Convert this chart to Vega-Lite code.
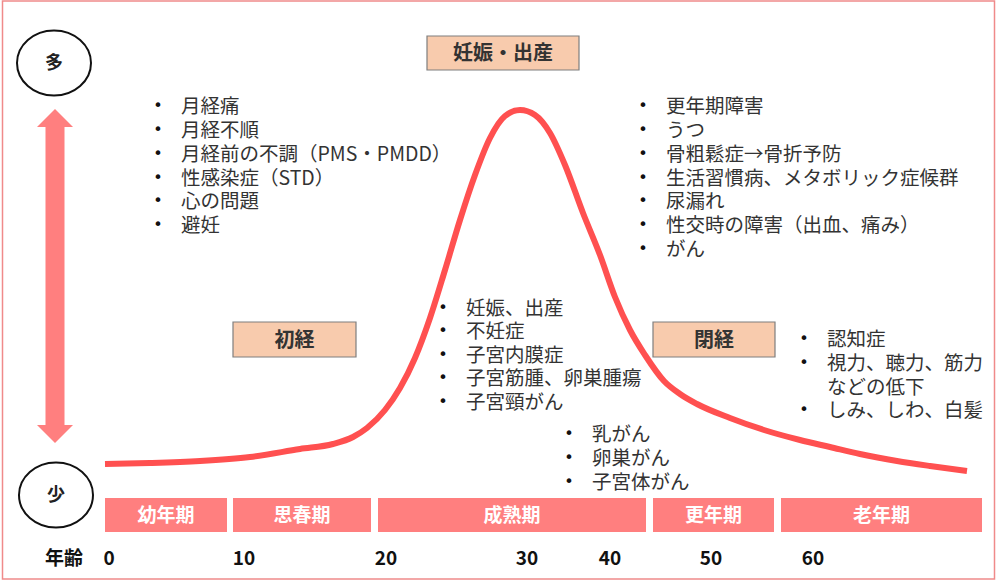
{
  "$schema": "https://vega.github.io/schema/vega-lite/v6.json",
  "width": 997,
  "height": 582,
  "autosize": {"type": "none"},
  "padding": 0,
  "background": "white",
  "config": {"view": {"stroke": null}, "font": "Noto Sans CJK JP"},
  "datasets": {
    "frame": [{"x1": 2.5, "x2": 994.5, "y1": 1, "y2": 579}],
    "curve": [
      {"x": 105, "y": 464}, {"x": 150, "y": 463}, {"x": 200, "y": 461}, {"x": 250, "y": 457},
      {"x": 300, "y": 449}, {"x": 333, "y": 444}, {"x": 353, "y": 437}, {"x": 367, "y": 428},
      {"x": 385, "y": 410}, {"x": 400, "y": 388}, {"x": 415, "y": 358}, {"x": 430, "y": 318},
      {"x": 445, "y": 270}, {"x": 460, "y": 220}, {"x": 475, "y": 175}, {"x": 490, "y": 138},
      {"x": 505, "y": 116}, {"x": 520, "y": 110}, {"x": 535, "y": 115}, {"x": 550, "y": 133},
      {"x": 565, "y": 165}, {"x": 583, "y": 213}, {"x": 600, "y": 255}, {"x": 615, "y": 297},
      {"x": 630, "y": 330}, {"x": 645, "y": 355}, {"x": 664, "y": 381}, {"x": 680, "y": 394},
      {"x": 697, "y": 404}, {"x": 730, "y": 418}, {"x": 764, "y": 430}, {"x": 800, "y": 440},
      {"x": 830, "y": 447}, {"x": 860, "y": 454}, {"x": 897, "y": 461}, {"x": 930, "y": 466},
      {"x": 967, "y": 471}
    ],
    "shaft": [{"x": 55, "y1": 126, "y2": 426}],
    "heads": [{"x": 55, "y": 118, "dir": "up"}, {"x": 55, "y": 434, "dir": "down"}],
    "circles": [{"x": 54, "y": 63, "label": "多"}, {"x": 56, "y": 495, "label": "少"}],
    "boxes": [
      {"x1": 427, "x2": 579, "y1": 36, "y2": 70, "label": "妊娠・出産"},
      {"x1": 233, "x2": 356, "y1": 322, "y2": 357, "label": "初経"},
      {"x1": 653, "x2": 775, "y1": 322, "y2": 357, "label": "閉経"}
    ],
    "stages": [
      {"x1": 105, "x2": 227, "label": "幼年期"},
      {"x1": 233, "x2": 371, "label": "思春期"},
      {"x1": 378, "x2": 646, "label": "成熟期"},
      {"x1": 653, "x2": 774, "label": "更年期"},
      {"x1": 781, "x2": 982, "label": "老年期"}
    ],
    "ages": [
      {"x": 64, "label": "年齢"}, {"x": 109, "label": "0"}, {"x": 244, "label": "10"},
      {"x": 386, "label": "20"}, {"x": 527, "label": "30"}, {"x": 610, "label": "40"},
      {"x": 711, "label": "50"}, {"x": 813, "label": "60"}
    ],
    "lists": [
      {"x": 158, "y": 105, "text": "月経痛", "bullet": true},
      {"x": 158, "y": 129, "text": "月経不順", "bullet": true},
      {"x": 158, "y": 153, "text": "月経前の不調（PMS・PMDD）", "bullet": true},
      {"x": 158, "y": 177, "text": "性感染症（STD）", "bullet": true},
      {"x": 158, "y": 200, "text": "心の問題", "bullet": true},
      {"x": 158, "y": 224, "text": "避妊", "bullet": true},
      {"x": 643, "y": 105, "text": "更年期障害", "bullet": true},
      {"x": 643, "y": 129, "text": "うつ", "bullet": true},
      {"x": 643, "y": 153, "text": "骨粗鬆症→骨折予防", "bullet": true},
      {"x": 643, "y": 177, "text": "生活習慣病、メタボリック症候群", "bullet": true},
      {"x": 643, "y": 200, "text": "尿漏れ", "bullet": true},
      {"x": 643, "y": 224, "text": "性交時の障害（出血、痛み）", "bullet": true},
      {"x": 643, "y": 248, "text": "がん", "bullet": true},
      {"x": 443, "y": 307, "text": "妊娠、出産", "bullet": true},
      {"x": 443, "y": 330, "text": "不妊症", "bullet": true},
      {"x": 443, "y": 354, "text": "子宮内膜症", "bullet": true},
      {"x": 443, "y": 377, "text": "子宮筋腫、卵巣腫瘍", "bullet": true},
      {"x": 443, "y": 401, "text": "子宮頸がん", "bullet": true},
      {"x": 569, "y": 433, "text": "乳がん", "bullet": true},
      {"x": 569, "y": 457, "text": "卵巣がん", "bullet": true},
      {"x": 569, "y": 481, "text": "子宮体がん", "bullet": true},
      {"x": 804, "y": 338, "text": "認知症", "bullet": true},
      {"x": 804, "y": 362, "text": "視力、聴力、筋力", "bullet": true},
      {"x": 804, "y": 386, "text": "などの低下", "bullet": false},
      {"x": 804, "y": 409, "text": "しみ、しわ、白髪", "bullet": true}
    ]
  },
  "layer": [
    {
      "data": {"name": "frame"},
      "mark": {"type": "rect", "fill": null, "stroke": "#F08A8A", "strokeWidth": 1.5},
      "encoding": {
        "x": {"field": "x1", "type": "quantitative", "scale": {"domain": [0, 997], "nice": false, "zero": false}, "axis": null},
        "x2": {"field": "x2"},
        "y": {"field": "y1", "type": "quantitative", "scale": {"domain": [582, 0], "nice": false, "zero": false}, "axis": null},
        "y2": {"field": "y2"}
      }
    },
    {
      "data": {"name": "shaft"},
      "mark": {"type": "rule", "stroke": "#FF7F7F", "strokeWidth": 19},
      "encoding": {
        "x": {"field": "x", "type": "quantitative"},
        "y": {"field": "y1", "type": "quantitative"},
        "y2": {"field": "y2"}
      }
    },
    {
      "data": {"name": "heads"},
      "transform": [{"filter": "datum.dir === 'up'"}],
      "mark": {"type": "point", "filled": true, "fill": "#FF7F7F", "opacity": 1, "strokeWidth": 0, "shape": "M -1,0.5 L 0,-0.5 L 1,0.5 Z", "size": 1296},
      "encoding": {
        "x": {"field": "x", "type": "quantitative"},
        "y": {"field": "y", "type": "quantitative"}
      }
    },
    {
      "data": {"name": "heads"},
      "transform": [{"filter": "datum.dir === 'down'"}],
      "mark": {"type": "point", "filled": true, "fill": "#FF7F7F", "opacity": 1, "strokeWidth": 0, "shape": "M -1,-0.5 L 0,0.5 L 1,-0.5 Z", "size": 1296},
      "encoding": {
        "x": {"field": "x", "type": "quantitative"},
        "y": {"field": "y", "type": "quantitative"}
      }
    },
    {
      "data": {"name": "circles"},
      "mark": {"type": "point", "filled": false, "stroke": "#111111", "strokeWidth": 2, "opacity": 1, "shape": "M -1,0 A 1,0.88 0 1,1 1,0 A 1,0.88 0 1,1 -1,0 Z", "size": 5476},
      "encoding": {
        "x": {"field": "x", "type": "quantitative"},
        "y": {"field": "y", "type": "quantitative"}
      }
    },
    {
      "data": {"name": "circles"},
      "mark": {"type": "text", "fontSize": 18, "fontWeight": "bold", "color": "#222222", "align": "center", "baseline": "middle", "dy": 1},
      "encoding": {
        "x": {"field": "x", "type": "quantitative"},
        "y": {"field": "y", "type": "quantitative"},
        "text": {"field": "label"}
      }
    },
    {
      "data": {"name": "boxes"},
      "mark": {"type": "rect", "fill": "#F8CBAD", "stroke": "#7F7F7F", "strokeWidth": 1.2},
      "encoding": {
        "x": {"field": "x1", "type": "quantitative"},
        "x2": {"field": "x2"},
        "y": {"field": "y1", "type": "quantitative"},
        "y2": {"field": "y2"}
      }
    },
    {
      "data": {"name": "boxes"},
      "transform": [{"calculate": "(datum.x1 + datum.x2) / 2", "as": "xc"}, {"calculate": "(datum.y1 + datum.y2) / 2", "as": "yc"}],
      "mark": {"type": "text", "fontSize": 20, "fontWeight": "bold", "color": "#333333", "align": "center", "baseline": "middle", "dy": 1},
      "encoding": {
        "x": {"field": "xc", "type": "quantitative"},
        "y": {"field": "yc", "type": "quantitative"},
        "text": {"field": "label"}
      }
    },
    {
      "data": {"name": "curve"},
      "mark": {"type": "line", "stroke": "#FF5050", "strokeWidth": 6, "interpolate": "monotone", "strokeCap": "butt"},
      "encoding": {
        "x": {"field": "x", "type": "quantitative"},
        "y": {"field": "y", "type": "quantitative"},
        "order": {"field": "x", "type": "quantitative"}
      }
    },
    {
      "data": {"name": "stages"},
      "mark": {"type": "rect", "fill": "#FF7F7F"},
      "encoding": {
        "x": {"field": "x1", "type": "quantitative"},
        "x2": {"field": "x2"},
        "y": {"datum": 498, "type": "quantitative"},
        "y2": {"datum": 532}
      }
    },
    {
      "data": {"name": "stages"},
      "transform": [{"calculate": "(datum.x1 + datum.x2) / 2", "as": "xc"}],
      "mark": {"type": "text", "fontSize": 19, "fontWeight": "bold", "color": "white", "align": "center", "baseline": "middle", "dy": 1},
      "encoding": {
        "x": {"field": "xc", "type": "quantitative"},
        "y": {"datum": 515, "type": "quantitative"},
        "text": {"field": "label"}
      }
    },
    {
      "data": {"name": "ages"},
      "mark": {"type": "text", "fontSize": 19, "fontWeight": "bold", "color": "#111111", "align": "center", "baseline": "middle", "dy": 1},
      "encoding": {
        "x": {"field": "x", "type": "quantitative"},
        "y": {"datum": 558, "type": "quantitative"},
        "text": {"field": "label"}
      }
    },
    {
      "data": {"name": "lists"},
      "transform": [{"filter": "datum.bullet"}],
      "mark": {"type": "text", "fontSize": 16, "color": "#111111", "align": "center", "baseline": "middle", "font": "DejaVu Sans", "dy": 1},
      "encoding": {
        "x": {"field": "x", "type": "quantitative"},
        "y": {"field": "y", "type": "quantitative"},
        "text": {"value": "•"}
      }
    },
    {
      "data": {"name": "lists"},
      "mark": {"type": "text", "fontSize": 19.5, "color": "#333333", "align": "left", "baseline": "middle", "dx": 23, "dy": 2},
      "encoding": {
        "x": {"field": "x", "type": "quantitative"},
        "y": {"field": "y", "type": "quantitative"},
        "text": {"field": "text"}
      }
    }
  ]
}
